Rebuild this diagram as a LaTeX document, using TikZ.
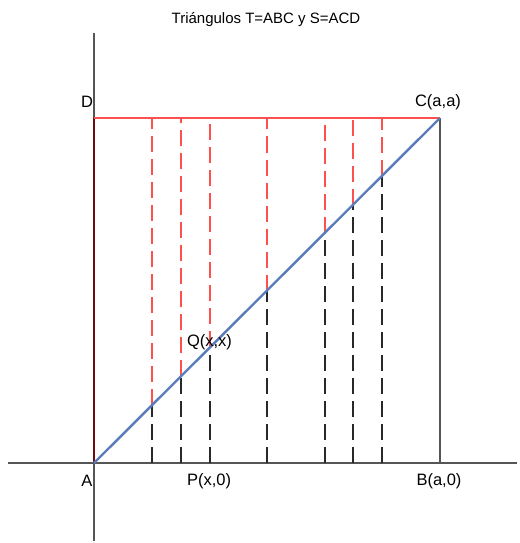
\documentclass[tikz,border=0pt]{standalone}
\usepackage{fontspec}
\setmainfont{Liberation Sans}
\definecolor{axisgray}{RGB}{85,85,85}
\definecolor{lred}{RGB}{255,80,80}
\definecolor{dred}{RGB}{110,10,10}
\definecolor{lblue}{RGB}{90,125,185}
\definecolor{dashgray}{RGB}{40,40,40}
\tikzset{
  axisline/.style={draw=axisgray, line width=1.2pt},
  redline/.style={draw=lred, line width=1.2pt},
  diag/.style={draw=lblue, line width=2.4pt},
  reddash/.style={draw=lred, line width=1.1pt, dash pattern=on 16pt off 7pt},
  blackdash/.style={draw=dashgray, line width=1.1pt, dash pattern=on 16pt off 7pt},
  lbl/.style={font=\fontsize{16.5}{18}\selectfont, inner sep=0pt},
}
\begin{document}
\begin{tikzpicture}[x=1pt,y=-1pt]
\useasboundingbox (0,0) rectangle (519,543);
% axes
\coordinate (xl) at (8,463);
\coordinate (xr) at (517,463);
\coordinate (yt) at (94,33);
\coordinate (yb) at (94,541);
\coordinate (A) at (94,463);
\coordinate (B) at (440,463);
\coordinate (C) at (440,118);
\coordinate (D) at (94,118);
\draw[axisline] (xl) -- (xr);
\draw[axisline] (yt) -- (yb);
\draw[draw=dred, line width=1.2pt] (A) -- (D);
\draw[axisline] (B) -- (C);
\draw[redline] (D) -- (C);
% dashed verticals
\foreach \x [count=\i] in {152,181,210,267,325,353,382}{
  \pgfmathsetmacro{\yd}{463-(\x-94)*0.99711}
  \coordinate (b\i) at (\x,463);
  \coordinate (m\i) at (\x,\yd);
  \coordinate (t\i) at (\x,118);
  \draw[blackdash] (b\i) -- (m\i);
  \draw[reddash] (m\i) -- (t\i);
}
\draw[diag] (A) -- (C);
% labels
\node[font=\fontsize{15}{17}\selectfont, inner sep=0pt] (title) at (266,20) {Triángulos T=ABC y S=ACD};
\node[lbl] (lD) at (87,102) {D};
\node[lbl] (lC) at (438,102) {C(a,a)};
\node[lbl] (lA) at (87,481) {A};
\node[lbl] (lP) at (209,481) {P(x,0)};
\node[lbl] (lB) at (439,481) {B(a,0)};
\node[lbl] (lQ) at (209.5,342) {Q(x,x)};
\end{tikzpicture}
\end{document}
